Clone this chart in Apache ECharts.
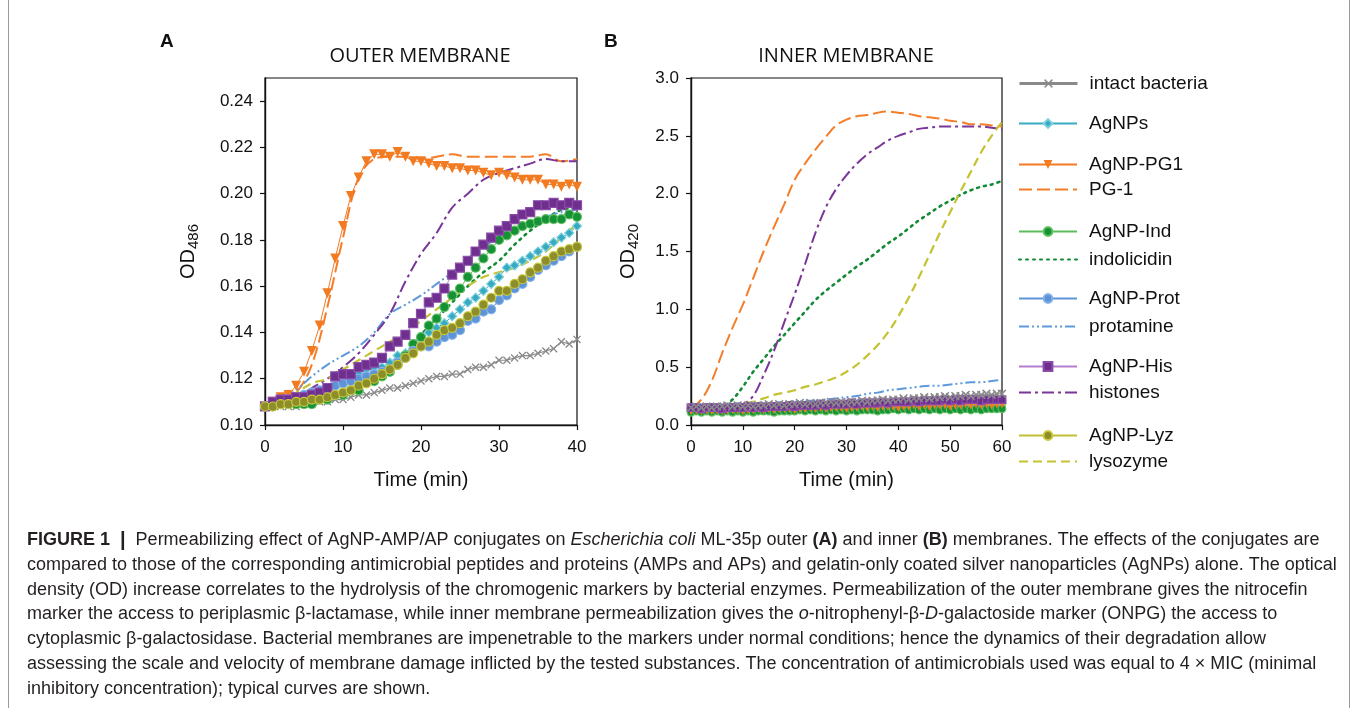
<!DOCTYPE html>
<html><head><meta charset="utf-8">
<script src="https://cdn.jsdelivr.net/npm/echarts@6/dist/echarts.min.js"></script>
<style>html,body{margin:0;padding:0;background:#fff}#c{width:1357px;height:708px}</style>
</head><body><div id="c"></div>
<script>
// ---------- time axes ----------
const timeA  = [0,1,2,3,4,5,6,7,8,9,10,11,12,13,14,15,16,17,18,19,20,21,22,23,24,25,26,27,28,29,30,31,32,33,34,35,36,37,38,39,40];
const timeA2 = [0,2,4,6,8,10,12,14,16,18,20,22,24,26,28,30,32,34,36,38,40];
const timeB  = [0,1,2,3,4,5,6,7,8,9,10,11,12,13,14,15,16,17,18,19,20,21,22,23,24,25,26,27,28,29,30,31,32,33,34,35,36,37,38,39,40,41,42,43,44,45,46,47,48,49,50,51,52,53,54,55,56,57,58,59,60];
const timeB2 = [0,2,4,6,8,10,12,14,16,18,20,22,24,26,28,30,32,34,36,38,40,42,44,46,48,50,52,54,56,58,60];

// ---------- Panel A: outer membrane (OD486) ----------
const intactA = [0.108,0.108,0.108,0.108,0.108,0.109,0.109,0.110,0.110,0.111,0.111,0.112,0.113,0.113,0.114,0.115,0.116,0.116,0.117,0.118,0.119,0.120,0.121,0.121,0.122,0.122,0.124,0.125,0.125,0.126,0.128,0.128,0.129,0.130,0.130,0.131,0.132,0.133,0.136,0.135,0.137];
const agnpsA  = [0.108,0.109,0.109,0.110,0.111,0.112,0.113,0.114,0.115,0.117,0.119,0.121,0.122,0.124,0.125,0.125,0.127,0.130,0.131,0.133,0.137,0.140,0.142,0.144,0.147,0.150,0.153,0.155,0.158,0.161,0.164,0.168,0.169,0.171,0.173,0.175,0.177,0.179,0.181,0.183,0.186];
const agPG1A  = [0.108,0.110,0.112,0.113,0.117,0.123,0.132,0.143,0.157,0.172,0.186,0.199,0.207,0.214,0.217,0.217,0.216,0.218,0.216,0.214,0.214,0.213,0.212,0.212,0.211,0.211,0.210,0.210,0.209,0.208,0.209,0.208,0.207,0.206,0.206,0.206,0.204,0.204,0.203,0.204,0.203];
const pg1A    = [0.108,0.110,0.114,0.126,0.151,0.181,0.207,0.215,0.216,0.216,0.215,0.216,0.217,0.216,0.216,0.216,0.216,0.216,0.217,0.214,0.215];
const agIndA  = [0.108,0.108,0.109,0.109,0.109,0.109,0.109,0.111,0.111,0.113,0.113,0.115,0.115,0.119,0.119,0.121,0.123,0.126,0.130,0.135,0.138,0.143,0.146,0.151,0.156,0.159,0.164,0.168,0.172,0.176,0.180,0.182,0.184,0.186,0.187,0.188,0.189,0.189,0.189,0.191,0.190];
const indA    = [0.108,0.109,0.110,0.111,0.113,0.115,0.117,0.120,0.124,0.131,0.139,0.146,0.153,0.160,0.166,0.171,0.178,0.184,0.189,0.193,0.194];
const agProtA = [0.108,0.109,0.110,0.111,0.112,0.113,0.114,0.115,0.116,0.117,0.118,0.119,0.120,0.121,0.122,0.123,0.124,0.127,0.129,0.132,0.134,0.134,0.136,0.138,0.139,0.141,0.145,0.146,0.149,0.150,0.154,0.156,0.159,0.161,0.164,0.167,0.169,0.171,0.173,0.175,0.177];
const protA   = [0.108,0.110,0.115,0.121,0.126,0.130,0.134,0.140,0.148,0.152,0.156,0.161,0.166,0.172,0.177,0.181,0.185,0.188,0.190,0.192,0.193];
const agHisA  = [0.108,0.110,0.111,0.111,0.112,0.112,0.113,0.114,0.116,0.121,0.122,0.122,0.125,0.126,0.127,0.129,0.134,0.136,0.139,0.144,0.148,0.153,0.155,0.159,0.165,0.168,0.171,0.175,0.178,0.181,0.184,0.186,0.189,0.191,0.192,0.195,0.195,0.196,0.195,0.196,0.195];
const hisA    = [0.108,0.110,0.112,0.116,0.120,0.125,0.131,0.139,0.148,0.162,0.174,0.183,0.194,0.200,0.206,0.209,0.211,0.213,0.215,0.214,0.214];
const agLyzA  = [0.108,0.108,0.109,0.109,0.110,0.110,0.111,0.111,0.112,0.113,0.114,0.115,0.117,0.118,0.120,0.122,0.124,0.126,0.129,0.131,0.134,0.136,0.139,0.141,0.142,0.144,0.147,0.149,0.152,0.155,0.158,0.158,0.161,0.163,0.166,0.168,0.171,0.173,0.175,0.176,0.177];
const lyzA    = [0.108,0.111,0.114,0.118,0.120,0.124,0.128,0.132,0.136,0.140,0.145,0.150,0.155,0.160,0.164,0.166,0.168,0.171,0.175,0.181,0.187];

// ---------- Panel B: inner membrane (OD420) ----------
const intactB = [0.15,0.16,0.15,0.16,0.15,0.16,0.16,0.17,0.16,0.17, 0.16,0.17,0.16,0.17,0.17,0.18,0.17,0.18,0.17,0.18, 0.18,0.19,0.18,0.19,0.18,0.19,0.19,0.20,0.19,0.20, 0.19,0.20,0.20,0.21,0.20,0.21,0.21,0.22,0.21,0.22, 0.22,0.23,0.22,0.23,0.23,0.24,0.23,0.24,0.24,0.25, 0.24,0.25,0.25,0.26,0.25,0.26,0.26,0.27,0.26,0.27,0.27];
const agnpsB  = [0.14,0.14,0.14,0.14,0.14,0.14,0.14,0.14,0.14,0.15, 0.14,0.15,0.14,0.15,0.15,0.15,0.15,0.15,0.15,0.16, 0.15,0.16,0.15,0.16,0.16,0.16,0.16,0.16,0.16,0.17, 0.16,0.17,0.16,0.17,0.17,0.17,0.17,0.17,0.17,0.18, 0.17,0.18,0.17,0.18,0.18,0.18,0.18,0.18,0.18,0.18, 0.18,0.18,0.18,0.18,0.18,0.19,0.18,0.19,0.18,0.19,0.19];
const agPG1B  = [0.12,0.13,0.12,0.13,0.12,0.13,0.12,0.13,0.13,0.13, 0.12,0.13,0.13,0.14,0.13,0.14,0.13,0.14,0.14,0.14, 0.13,0.14,0.14,0.15,0.14,0.15,0.14,0.15,0.15,0.15, 0.14,0.15,0.15,0.16,0.15,0.16,0.15,0.16,0.16,0.16, 0.15,0.16,0.16,0.17,0.16,0.17,0.16,0.17,0.17,0.17, 0.16,0.17,0.17,0.18,0.17,0.18,0.17,0.18,0.17,0.18,0.18];
const pg1B    = [0.15,0.22,0.38,0.62,0.84,1.04,1.27,1.50,1.71,1.91,2.12,2.26,2.38,2.49,2.59,2.64,2.67,2.68,2.70,2.71,2.70,2.69,2.67,2.66,2.65,2.63,2.62,2.60,2.60,2.59,2.58];
const agIndB  = [0.11,0.12,0.11,0.12,0.11,0.12,0.11,0.12,0.11,0.12, 0.11,0.12,0.11,0.12,0.12,0.12,0.11,0.12,0.12,0.12, 0.12,0.13,0.12,0.13,0.12,0.13,0.12,0.13,0.12,0.13, 0.12,0.13,0.12,0.13,0.13,0.13,0.12,0.13,0.13,0.14, 0.13,0.14,0.13,0.14,0.13,0.14,0.13,0.14,0.13,0.14, 0.13,0.14,0.13,0.14,0.13,0.14,0.13,0.14,0.14,0.14,0.14];
const indB    = [0.15,0.15,0.15,0.16,0.22,0.33,0.46,0.57,0.68,0.78,0.88,0.98,1.08,1.16,1.23,1.30,1.37,1.43,1.50,1.57,1.63,1.70,1.77,1.83,1.89,1.94,1.99,2.03,2.06,2.08,2.11];
const agProtB = [0.15,0.15,0.15,0.15,0.15,0.15,0.15,0.15,0.15,0.16, 0.15,0.16,0.16,0.16,0.16,0.16,0.16,0.17,0.16,0.17, 0.17,0.17,0.17,0.17,0.17,0.18,0.17,0.18,0.18,0.18, 0.18,0.18,0.18,0.19,0.18,0.19,0.19,0.19,0.19,0.19, 0.19,0.19,0.19,0.20,0.19,0.20,0.19,0.20,0.20,0.20, 0.20,0.20,0.20,0.20,0.20,0.21,0.20,0.21,0.20,0.21,0.21];
const protB   = [0.15,0.15,0.15,0.16,0.16,0.17,0.17,0.18,0.18,0.19,0.20,0.21,0.21,0.22,0.23,0.24,0.25,0.27,0.28,0.30,0.31,0.32,0.33,0.34,0.34,0.35,0.36,0.37,0.37,0.38,0.39];
const agHisB  = [0.15,0.15,0.14,0.15,0.15,0.15,0.14,0.15,0.15,0.15, 0.15,0.16,0.15,0.16,0.15,0.16,0.16,0.16,0.16,0.17, 0.16,0.17,0.17,0.17,0.17,0.18,0.17,0.18,0.18,0.18, 0.18,0.19,0.18,0.19,0.19,0.19,0.19,0.20,0.19,0.20, 0.20,0.20,0.20,0.21,0.20,0.21,0.21,0.21,0.21,0.22, 0.21,0.22,0.21,0.22,0.22,0.22,0.21,0.22,0.22,0.22,0.22];
const hisB    = [0.15,0.15,0.15,0.16,0.16,0.18,0.25,0.43,0.64,0.89,1.13,1.39,1.66,1.88,2.04,2.16,2.26,2.34,2.40,2.46,2.50,2.53,2.56,2.57,2.58,2.58,2.58,2.58,2.58,2.57,2.56];
const agLyzB  = [0.13,0.13,0.13,0.13,0.13,0.13,0.13,0.14,0.13,0.14, 0.13,0.14,0.14,0.14,0.14,0.14,0.14,0.15,0.14,0.15, 0.14,0.15,0.15,0.15,0.15,0.15,0.15,0.16,0.15,0.16, 0.15,0.16,0.16,0.16,0.16,0.16,0.16,0.17,0.16,0.17, 0.16,0.17,0.17,0.17,0.17,0.17,0.17,0.18,0.17,0.18, 0.17,0.18,0.18,0.18,0.18,0.18,0.18,0.18,0.18,0.18,0.18];
const lyzB    = [0.15,0.15,0.16,0.17,0.18,0.19,0.20,0.23,0.26,0.28,0.30,0.33,0.35,0.38,0.41,0.46,0.52,0.60,0.69,0.80,0.94,1.10,1.28,1.47,1.66,1.84,2.02,2.19,2.36,2.50,2.62];

// ---------- tick labels / names ----------
const seriesNames = ['intact bacteria','AgNPs','AgNP-PG1','PG-1','AgNP-Ind','indolicidin','AgNP-Prot','protamine','AgNP-His','histones','AgNP-Lyz','lysozyme'];
const panelTitles = ['OUTER MEMBRANE','INNER MEMBRANE'];
const panelLetters = ['A','B'];

const FONT = 'Liberation Sans, Arial, sans-serif';
const zip = (t, v) => t.map((x, i) => [x, v[i]]);

const X_PATH = 'path://M0,1.2L1.2,0L5,3.8L8.8,0L10,1.2L6.2,5L10,8.8L8.8,10L5,6.2L1.2,10L0,8.8L3.8,5Z';
const TRI_DOWN = 'path://M0,0L10,0L5,9Z';

const styles = {
  'intact bacteria': {marker: true, color:'#8a8a8a', symbol: X_PATH, size: 8, border: null, lw: 1.2},
  'AgNPs':           {marker: true, color:'#35aac0', symbol: 'diamond', size: 9, border: '#7fd0de', lw: 1},
  'AgNP-PG1':        {marker: true, color:'#f27b22', symbol: TRI_DOWN, size: 10, border: null, lw: 1},
  'PG-1':            {marker: false, color:'#f47d2a', type: [13,5], lw: 2},
  'AgNP-Ind':        {marker: true, color:'#159136', symbol: 'circle', size: 9, border: '#62c062', lw: 1, lineColor:'#5cbf5c'},
  'indolicidin':     {marker: false, color:'#138a35', type: [2,5], lw: 2.6, cap: 'round'},
  'AgNP-Prot':       {marker: true, color:'#5e93d6', symbol: 'circle', size: 9, border: '#86b4ea', lw: 1},
  'protamine':       {marker: false, color:'#5e99dc', type: [10,3,2,3,2,3], lw: 2},
  'AgNP-His':        {marker: true, color:'#6f2f8f', symbol: 'rect', size: 9, border: '#8a4ca8', lw: 1, lineColor:'#b37fcc'},
  'histones':        {marker: false, color:'#7a3598', type: [12,4,3,4], lw: 2},
  'AgNP-Lyz':        {marker: true, color:'#8d8d2c', symbol: 'circle', size: 9, border: '#c9c93a', lw: 1, lineColor:'#c0c030'},
  'lysozyme':        {marker: false, color:'#c3c332', type: [9,5], lw: 2.2}
};

function mk(name, idx, t, v, symScale) {
  const s = styles[name];
  const base = {
    name, type: 'line', xAxisIndex: idx, yAxisIndex: idx,
    data: zip(t, v), animation: false, emphasis: {disabled: true}
  };
  if (s.marker) {
    return Object.assign(base, {
      symbol: s.symbol, symbolSize: s.size * (symScale || 1), showSymbol: true,
      itemStyle: {color: s.color, borderColor: s.border || s.color, borderWidth: s.border ? 1.2 : 0},
      lineStyle: {color: s.lineColor || s.color, width: s.lw}
    });
  }
  return Object.assign(base, {
    symbol: 'none', smooth: 0.35,
    itemStyle: {color: s.color},
    lineStyle: {color: s.color, width: s.lw, type: s.type, cap: s.cap || 'butt'}
  });
}

const series = [
  mk('intact bacteria', 0, timeA, intactA),
  mk('AgNPs', 0, timeA, agnpsA),
  mk('AgNP-PG1', 0, timeA, agPG1A),
  mk('PG-1', 0, timeA2, pg1A),
  mk('AgNP-Ind', 0, timeA, agIndA),
  mk('indolicidin', 0, timeA2, indA),
  mk('AgNP-Prot', 0, timeA, agProtA),
  mk('protamine', 0, timeA2, protA),
  mk('AgNP-His', 0, timeA, agHisA),
  mk('histones', 0, timeA2, hisA),
  mk('AgNP-Lyz', 0, timeA, agLyzA),
  mk('lysozyme', 0, timeA2, lyzA),

  // panel B: dense marker band (drawn so grey / purple / orange / green stay visible, as in the reference)
  mk('AgNP-Lyz', 1, timeB, agLyzB, 0.85),
  mk('AgNPs', 1, timeB, agnpsB, 0.85),
  mk('AgNP-Prot', 1, timeB, agProtB, 0.85),
  mk('AgNP-Ind', 1, timeB, agIndB, 0.85),
  mk('AgNP-PG1', 1, timeB, agPG1B, 0.85),
  mk('AgNP-His', 1, timeB, agHisB, 0.85),
  mk('intact bacteria', 1, timeB, intactB, 1.1),
  mk('PG-1', 1, timeB2, pg1B),
  mk('indolicidin', 1, timeB2, indB),
  mk('protamine', 1, timeB2, protB),
  mk('histones', 1, timeB2, hisB),
  mk('lysozyme', 1, timeB2, lyzB)
];

// legend: one component per entry so spacing can follow the reference
const legendCenters = [84,124,165,190,232,260,299,327,367,393,436,462];
const legends = seriesNames.map((n, i) => {
  let item;
  if (n === 'intact bacteria') item = {name: n, lineStyle: {width: 3}};
  else if (!styles[n].marker) item = {name: n, itemStyle: {opacity: 0}};
  else item = n;
  return {
    data: [item],
    left: 1018, top: legendCenters[i] - 10, orient: 'vertical', padding: 0,
    itemWidth: 58, itemHeight: 11, selectedMode: false,
    textStyle: {fontSize: 19, fontFamily: FONT, color: '#111', padding: [0,0,0,7]}
  };
});

const axisCommon = {
  axisLine: {lineStyle: {color: '#111', width: 1.4}},
  axisTick: {inside: false, length: 5, lineStyle: {color: '#111', width: 1.2}},
  splitLine: {show: false}
};

function xAx(idx, max) {
  return Object.assign({}, axisCommon, {
    type: 'value', gridIndex: idx, min: 0, max: max, interval: 10,
    axisLabel: {fontSize: 17, fontFamily: FONT, color: '#111', margin: 14},
    name: 'Time (min)', nameLocation: 'middle', nameGap: 45,
    nameTextStyle: {fontSize: 20, fontFamily: FONT, color: '#111'}
  });
}

function yAx(idx, max, interval, digits, sub, gap) {
  return Object.assign({}, axisCommon, {
    type: 'value', gridIndex: idx, min: 0 + (idx === 0 ? 0.10 : 0), max: max, interval: interval,
    axisLabel: {fontSize: 17, fontFamily: FONT, color: '#111', margin: 12, showMaxLabel: idx === 1,
      formatter: v => v.toFixed(digits)},
    name: '{a|OD}{b|' + sub + '}', nameLocation: 'middle', nameGap: gap, nameRotate: 90,
    nameTextStyle: {rich: {
      a: {fontSize: 20, lineHeight: 26, fontFamily: FONT, color: '#111'},
      b: {fontSize: 15, lineHeight: 15, verticalAlign: 'bottom', fontFamily: FONT, color: '#111'}
    }}
  });
}

// caption
const caption = [
  '{b|FIGURE 1}{n|  }{s||}{n|  Permeabilizing effect of AgNP-AMP/AP conjugates on }{i|Escherichia coli}{n| ML-35p outer }{b|(A)}{n| and inner }{b|(B)}{n| membranes. The effects of the conjugates are}',
  '{n|compared to those of the corresponding antimicrobial peptides and proteins (AMPs and APs) and gelatin-only coated silver nanoparticles (AgNPs) alone. The optical}',
  '{n|density (OD) increase correlates to the hydrolysis of the chromogenic markers by bacterial enzymes. Permeabilization of the outer membrane gives the nitrocefin}',
  '{n|marker the access to periplasmic β-lactamase, while inner membrane permeabilization gives the }{i|o}{n|-nitrophenyl-β-}{i|D}{n|-galactoside marker (ONPG) the access to}',
  '{n|cytoplasmic β-galactosidase. Bacterial membranes are impenetrable to the markers under normal conditions; hence the dynamics of their degradation allow}',
  '{n|assessing the scale and velocity of membrane damage inflicted by the tested substances. The concentration of antimicrobials used was equal to 4 × MIC (minimal}',
  '{n|inhibitory concentration); typical curves are shown.}'
].join('\n');

const CAP_FS = 18, CAP_LH = 24.8, CAP_COLOR = '#231f20';
const capRich = {
  n: {fontSize: CAP_FS, lineHeight: CAP_LH, fontFamily: FONT, color: CAP_COLOR},
  b: {fontSize: CAP_FS, lineHeight: CAP_LH, fontFamily: FONT, color: CAP_COLOR, fontWeight: 'bold'},
  i: {fontSize: CAP_FS, lineHeight: CAP_LH, fontFamily: FONT, color: CAP_COLOR, fontStyle: 'italic'},
  s: {fontSize: 20, lineHeight: CAP_LH, fontFamily: FONT, color: '#444', fontWeight: 'bold'}
};

const option = {
  backgroundColor: '#fff',
  animation: false,
  grid: [
    {left: 265, top: 78, width: 312, height: 347, show: true, borderColor: '#111', borderWidth: 1.2, backgroundColor: 'transparent'},
    {left: 691, top: 78, width: 311, height: 347, show: true, borderColor: '#111', borderWidth: 1.2, backgroundColor: 'transparent'}
  ],
  xAxis: [xAx(0, 40), xAx(1, 60)],
  yAxis: [yAx(0, 0.25, 0.02, 2, '486', 64), yAx(1, 3.0, 0.5, 1, '420', 50)],
  legend: legends,
  series: series,
  graphic: [
    {type: 'text', left: 160, top: 32, style: {text: panelLetters[0], fontSize: 19, fontWeight: 'bold', fontFamily: FONT, fill: '#111'}},
    {type: 'text', left: 604, top: 32, style: {text: panelLetters[1], fontSize: 19, fontWeight: 'bold', fontFamily: FONT, fill: '#111'}},
    {type: 'text', x: 420, y: 56, style: {text: panelTitles[0], fontSize: 20, fontFamily: 'Open Sans, Noto Sans, sans-serif', fill: '#111', align: 'center', verticalAlign: 'middle'}},
    {type: 'text', x: 846, y: 56, style: {text: panelTitles[1], fontSize: 20, fontFamily: 'Open Sans, Noto Sans, sans-serif', fill: '#111', align: 'center', verticalAlign: 'middle'}},
    {type: 'text', x: 27, y: 527.6, style: {text: caption, rich: capRich, fontSize: CAP_FS, lineHeight: CAP_LH, fontFamily: FONT, fill: CAP_COLOR}},
    {type: 'line', shape: {x1: 8.5, y1: 0, x2: 8.5, y2: 708}, style: {stroke: '#9a9a9a', lineWidth: 1}},
    {type: 'line', shape: {x1: 1349.5, y1: 0, x2: 1349.5, y2: 708}, style: {stroke: '#9a9a9a', lineWidth: 1}}
  ]
};

const chart = echarts.init(document.getElementById('c'), null, {renderer: 'canvas'});
chart.setOption(option);
</script>
</body></html>
